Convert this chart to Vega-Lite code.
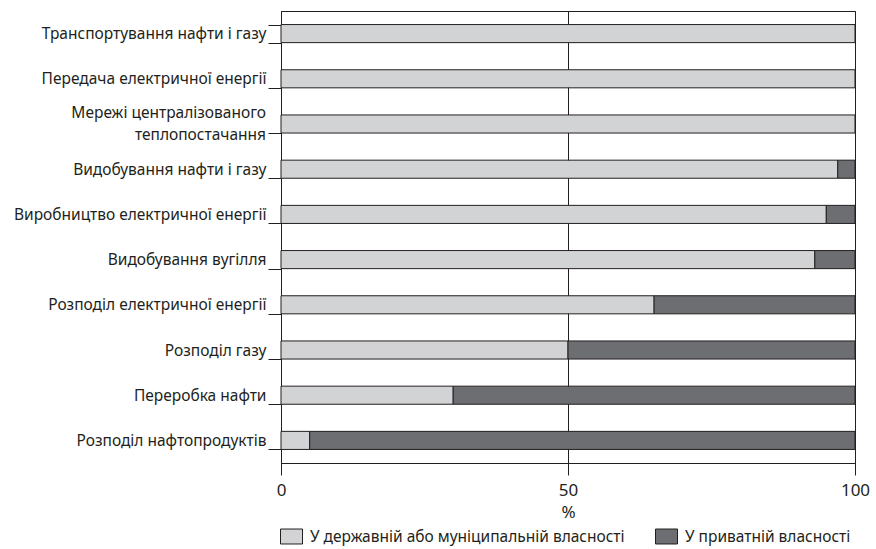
{
  "$schema": "https://vega.github.io/schema/vega-lite/v6.json",
  "autosize": {"type": "none"},
  "padding": {"left": 281, "top": 11, "right": 21, "bottom": 86},
  "width": 574,
  "height": 452,
  "background": "white",
  "config": {
    "font": "Noto Sans",
    "view": {"stroke": "#231f20", "strokeWidth": 1},
    "axis": {"labelColor": "#231f20", "titleColor": "#231f20", "domainColor": "#231f20", "tickColor": "#231f20", "gridColor": "#231f20", "gridOpacity": 1},
    "legend": {"labelColor": "#231f20"}
  },
  "data": {
    "values": [
      {"category": "Транспортування нафти і газу", "type": "У державній або муніципальній власності", "ord": 1, "value": 100},
      {"category": "Транспортування нафти і газу", "type": "У приватній власності", "ord": 2, "value": 0},
      {"category": "Передача електричної енергії", "type": "У державній або муніципальній власності", "ord": 1, "value": 100},
      {"category": "Передача електричної енергії", "type": "У приватній власності", "ord": 2, "value": 0},
      {"category": "Мережі централізованого\nтеплопостачання", "type": "У державній або муніципальній власності", "ord": 1, "value": 100},
      {"category": "Мережі централізованого\nтеплопостачання", "type": "У приватній власності", "ord": 2, "value": 0},
      {"category": "Видобування нафти і газу", "type": "У державній або муніципальній власності", "ord": 1, "value": 97},
      {"category": "Видобування нафти і газу", "type": "У приватній власності", "ord": 2, "value": 3},
      {"category": "Виробництво електричної енергії", "type": "У державній або муніципальній власності", "ord": 1, "value": 95},
      {"category": "Виробництво електричної енергії", "type": "У приватній власності", "ord": 2, "value": 5},
      {"category": "Видобування вугілля", "type": "У державній або муніципальній власності", "ord": 1, "value": 93},
      {"category": "Видобування вугілля", "type": "У приватній власності", "ord": 2, "value": 7},
      {"category": "Розподіл електричної енергії", "type": "У державній або муніципальній власності", "ord": 1, "value": 65},
      {"category": "Розподіл електричної енергії", "type": "У приватній власності", "ord": 2, "value": 35},
      {"category": "Розподіл газу", "type": "У державній або муніципальній власності", "ord": 1, "value": 50},
      {"category": "Розподіл газу", "type": "У приватній власності", "ord": 2, "value": 50},
      {"category": "Переробка нафти", "type": "У державній або муніципальній власності", "ord": 1, "value": 30},
      {"category": "Переробка нафти", "type": "У приватній власності", "ord": 2, "value": 70},
      {"category": "Розподіл нафтопродуктів", "type": "У державній або муніципальній власності", "ord": 1, "value": 5},
      {"category": "Розподіл нафтопродуктів", "type": "У приватній власності", "ord": 2, "value": 95}
    ]
  },
  "transform": [{"filter": "datum.value > 0"}],
  "encoding": {
    "y": {
      "field": "category",
      "type": "nominal",
      "sort": null,
      "scale": {"paddingInner": 0.6, "paddingOuter": 0.3},
      "axis": {
        "title": null,
        "tickBand": "extent",
        "tickSize": 13,
        "labelPadding": 2,
        "labelFontSize": 15.5,
        "labelLimit": 300,
        "labelExpr": "indexof(datum.label, '\\n') >= 0 ? '' : datum.label"
      }
    }
  },
  "layer": [
    {
      "mark": {"type": "bar", "stroke": "#231f20", "strokeWidth": 1},
      "encoding": {
        "x": {
          "field": "value",
          "type": "quantitative",
          "stack": "zero",
          "scale": {"domain": [0, 100], "nice": false},
          "axis": {
            "title": "%",
            "values": [0, 50, 100],
            "tickSize": 12,
            "labelFlush": false,
            "labelFontSize": 17,
            "labelPadding": 7,
            "titleFontSize": 17,
            "titleFontWeight": "normal",
            "titlePadding": 6,
            "grid": true
          }
        },
        "color": {
          "field": "type",
          "type": "nominal",
          "scale": {
            "domain": ["У державній або муніципальній власності", "У приватній власності"],
            "range": ["#d1d3d4", "#6d6e71"]
          },
          "legend": {
            "title": null,
            "orient": "none",
            "direction": "horizontal",
            "legendX": -1,
            "legendY": 514,
            "symbolType": "M-1,-0.68H1V0.68H-1Z",
            "symbolSize": 484,
            "symbolStrokeColor": "#231f20",
            "symbolStrokeWidth": 1,
            "labelFontSize": 15.5,
            "labelLimit": 400,
            "labelOffset": 7,
            "columnPadding": 28
          }
        },
        "order": {"field": "ord", "type": "quantitative"}
      }
    },
    {
      "transform": [{"filter": "indexof(datum.category, '\\n') >= 0"}],
      "mark": {"type": "text", "align": "right", "baseline": "middle", "dx": -15, "dy": -11, "lineBreak": "\n", "lineHeight": 22, "fontSize": 15.5, "color": "#231f20"},
      "encoding": {
        "x": {"datum": 0, "type": "quantitative"},
        "text": {"field": "category", "type": "nominal"}
      }
    }
  ]
}
